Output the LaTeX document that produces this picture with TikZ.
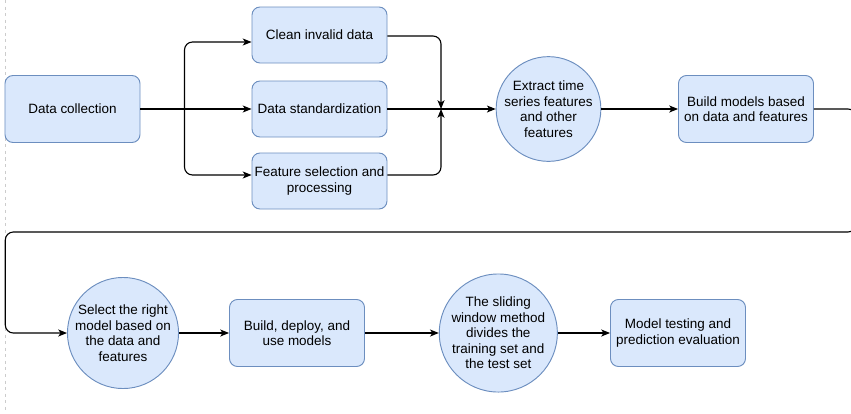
\documentclass[tikz,border=0pt]{standalone}
\usepackage{fontspec}
\setmainfont{Liberation Sans}
\usetikzlibrary{arrows.meta,calc}
\definecolor{boxfill}{HTML}{DAE8FC}
\definecolor{boxline}{HTML}{6C8EBF}
\definecolor{guide}{HTML}{CCCCCC}
\tikzset{
  base/.style={draw=boxline, fill=boxfill, line width=0.8pt, inner sep=0pt,
    align=center, font=\fontsize{11.5}{13.3}\selectfont},
  procbox/.style={base, rectangle, rounded corners=0.24cm,
    minimum width=4.05cm, minimum height=2.01cm},
  smallbox/.style={procbox, minimum height=1.68cm},
  stagecircle/.style={base, circle, minimum size=3.03cm},
  bigcircle/.style={base, circle, minimum size=3.38cm},
  edge/.style={draw=black, line width=0.95pt, rounded corners=0.24cm,
    -{Stealth[length=7.5pt,width=6pt,inset=2pt]}},
}
\begin{document}
\begin{tikzpicture}[x=0.03cm, y=-0.03cm]
\useasboundingbox (0,0) rectangle (851,413);
\clip (0,0) rectangle (851,413);

% page guide on the left
\draw[guide, line width=0.8pt, dash pattern=on 2.6pt off 3pt] (5,0) -- (5,413);

% first row
\node[procbox] (dc) at (72.5,109) {Data collection};
\node[smallbox] (clean) at (319.5,35) {Clean invalid data};
\node[smallbox] (std) at (319.5,109) {Data standardization};
\node[smallbox] (feat) at (319.5,181) {Feature selection and\\processing};
\node[stagecircle] (ext) at (548.5,109) {Extract time\\series features\\and other\\features};
\node[procbox] (bm) at (746,109) {Build models based\\on data and features};

% second row
\node[stagecircle] (sel) at (123,333) {Select the right\\model based on\\the data and\\features};
\node[procbox] (bd) at (297,333) {Build, deploy, and\\use models};
\node[bigcircle] (sw) at (498.3,333) {The sliding\\window method\\divides the\\training set and\\the test set};
\node[procbox] (mt) at (678,333) {Model testing and\\prediction evaluation};

% fan out from data collection
\coordinate (split) at (184.5,109);
\draw[edge] (dc.east) -- (std.west);
\draw[edge] (split) |- ($(clean.west)+(0,7)$);
\draw[edge] (split) |- ($(feat.west)+(0,-6)$);

% merge into feature extraction
\coordinate (merge) at (441,109);
\draw[edge] ($(clean.east)+(0,1)$) -| (merge);
\draw[edge] ($(feat.east)+(0,-6)$) -| (merge);
\draw[edge] (std.east) -- (ext.west);
\draw[edge] (ext.east) -- (bm.west);

% wrap to the second row
\coordinate (rturn) at (856,232);
\coordinate (lturn) at (5.3,232);
\draw[edge] (bm.east) -| (rturn) -- (lturn) |- (sel.west);

% second row flow
\draw[edge] (sel.east) -- (bd.west);
\draw[edge] (bd.east) -- (sw.west);
\draw[edge] (sw.east) -- (mt.west);
\end{tikzpicture}
\end{document}
